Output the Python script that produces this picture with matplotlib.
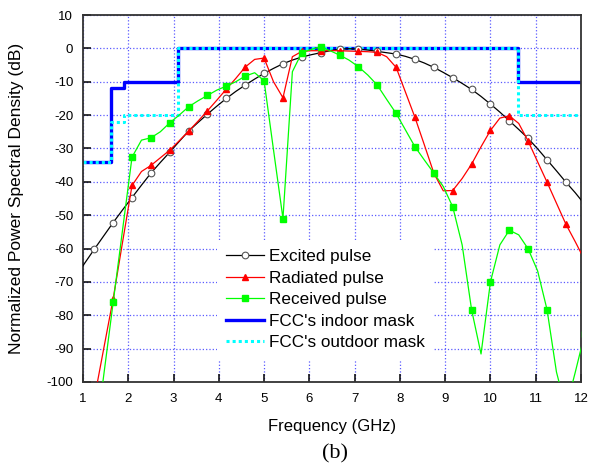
import numpy as np
import matplotlib
matplotlib.use("Agg")
import matplotlib.pyplot as plt

plt.rcParams['font.family'] = ['Liberation Sans', 'DejaVu Sans']
plt.rcParams['axes.unicode_minus'] = False

# frequency samples (GHz), markers on every other sample
freq = [0.833, 1.042, 1.250, 1.458, 1.667, 1.875, 2.083, 2.292, 2.500, 2.708,
        2.917, 3.125, 3.333, 3.542, 3.750, 3.958, 4.167, 4.375, 4.583, 4.792,
        5.000, 5.208, 5.417, 5.625, 5.833, 6.042, 6.250, 6.458, 6.667, 6.875,
        7.083, 7.292, 7.500, 7.708, 7.917, 8.125, 8.333, 8.542, 8.750, 8.958,
        9.167, 9.375, 9.583, 9.792, 10.000, 10.208, 10.417, 10.625, 10.833, 11.042,
        11.250, 11.458, 11.667, 11.875, 12.083]

excited = [-68.5, -64.3, -60.2, -56.2, -52.2, -48.4, -44.7, -41.0, -37.4, -34.2,
           -31.1, -27.9, -24.8, -22.2, -19.7, -17.3, -15.0, -12.9, -11.0, -9.2,
           -7.5, -6.0, -4.6, -3.5, -2.6, -1.9, -1.3, -0.7, -0.2, -0.1,
           -0.2, -0.5, -0.9, -1.3, -1.7, -2.4, -3.3, -4.4, -5.7, -7.2,
           -8.8, -10.5, -12.3, -14.4, -16.7, -19.1, -21.7, -24.3, -27.0, -30.1,
           -33.4, -36.7, -40.1, -43.3, -46.8]

radiated = [-135, -120, -105, -90, -75.0, -58.0, -41.1, -36.9, -35.1, -32.8,
            -30.5, -27.7, -24.8, -21.8, -18.7, -15.5, -12.2, -9.0, -5.6, -3.3,
            -2.9, -10.0, -14.8, -2.5, -0.9, -0.7, -0.7, -0.7, -0.7, -0.8,
            -0.9, -1.0, -1.2, -2.5, -5.7, -13.2, -20.7, -29.0, -37.4, -42.7,
            -42.6, -39.0, -34.7, -29.5, -24.6, -20.9, -20.2, -22.5, -27.8, -34.0,
            -40.1, -46.4, -52.7, -58.0, -63.5]

received = [-150, -140, -120, -98, -76.1, -54.3, -32.6, -27.5, -26.8, -25.0,
            -22.3, -20.0, -17.5, -15.7, -14.1, -12.5, -11.3, -10.0, -8.3, -7.3,
            -9.7, -30.4, -51.0, -7.0, -1.3, -0.3, 0.5, -0.7, -2.0, -3.5,
            -5.5, -8.0, -11.0, -15.3, -19.5, -24.5, -29.5, -33.5, -37.4, -41.4,
            -47.5, -58.9, -78.3, -91.6, -70.0, -58.9, -54.5, -55.9, -60.1, -66.7,
            -78.3, -97, -108, -97, -85.5]

# FCC masks (normalized), step edges in GHz
mask_edges = [1.0, 1.61, 1.9, 3.1, 10.6, 12.0]
indoor_mask = [-34, -12, -10, 0, -10, -10]
outdoor_mask = [-34, -22, -20, 0, -20, -20]

fig = plt.figure(figsize=(5.89, 4.65), dpi=100)
ax = fig.add_axes([0.1409, 0.1785, 0.8455, 0.7892])

h_in, = ax.step(mask_edges, indoor_mask, where='post', color='#0000ff', lw=2.4,
                label="FCC's indoor mask", zorder=2)
h_out, = ax.step(mask_edges, outdoor_mask, where='post', color='#00ffff', lw=2.2,
                 linestyle=(0, (1, 1)), label="FCC's outdoor mask", zorder=2.1)

h_exc, = ax.plot(freq, excited, color='black', lw=0.9, marker='o', markersize=4.8,
                 markerfacecolor='white', markeredgecolor='#555555', markeredgewidth=0.8,
                 markevery=(2, 2), label='Excited pulse', zorder=3)
h_rad, = ax.plot(freq, radiated, color='#ff0000', lw=0.9, marker='^', markersize=5,
                 markevery=(2, 2), label='Radiated pulse', zorder=3)
h_rec, = ax.plot(freq, received, color='#00ff00', lw=0.9, marker='s', markersize=4.2,
                 markevery=(2, 2), label='Received pulse', zorder=3)

ax.set_xlim(1, 12)
ax.set_ylim(-100, 10)
ax.set_xticks(np.arange(1, 13, 1))
ax.set_yticks(np.arange(-100, 11, 10))
ax.grid(True, color='#5a5aff', linestyle=':', linewidth=0.9)
ax.tick_params(direction='in', length=6, width=1.1, labelsize=9.5)
ax.tick_params(axis='x', pad=8)
ax.tick_params(axis='y', pad=7)
for sp in ax.spines.values():
    sp.set_color('#333333')
    sp.set_linewidth(1.3)

ax.set_xlabel('Frequency (GHz)', fontsize=12)
ax.set_ylabel('Normalized Power Spectral Density (dB)', fontsize=12.5)
ax.xaxis.set_label_coords(0.5, -0.1)
ax.yaxis.set_label_coords(-0.118, 0.5)

leg = ax.legend(handles=[h_exc, h_rad, h_rec, h_in, h_out], loc='upper left',
                bbox_to_anchor=(0.251, 0.41), fontsize=12.3, frameon=True,
                fancybox=False, framealpha=1, facecolor='white', edgecolor='none',
                handlelength=2.2, handletextpad=0.3, labelspacing=0.38, borderpad=0.55)

fig.text(335 / 589, 1 - 454 / 465, '(b)', fontsize=16, family='Liberation Serif',
         ha='center', va='center')

fig.savefig('out.png', dpi=100)
